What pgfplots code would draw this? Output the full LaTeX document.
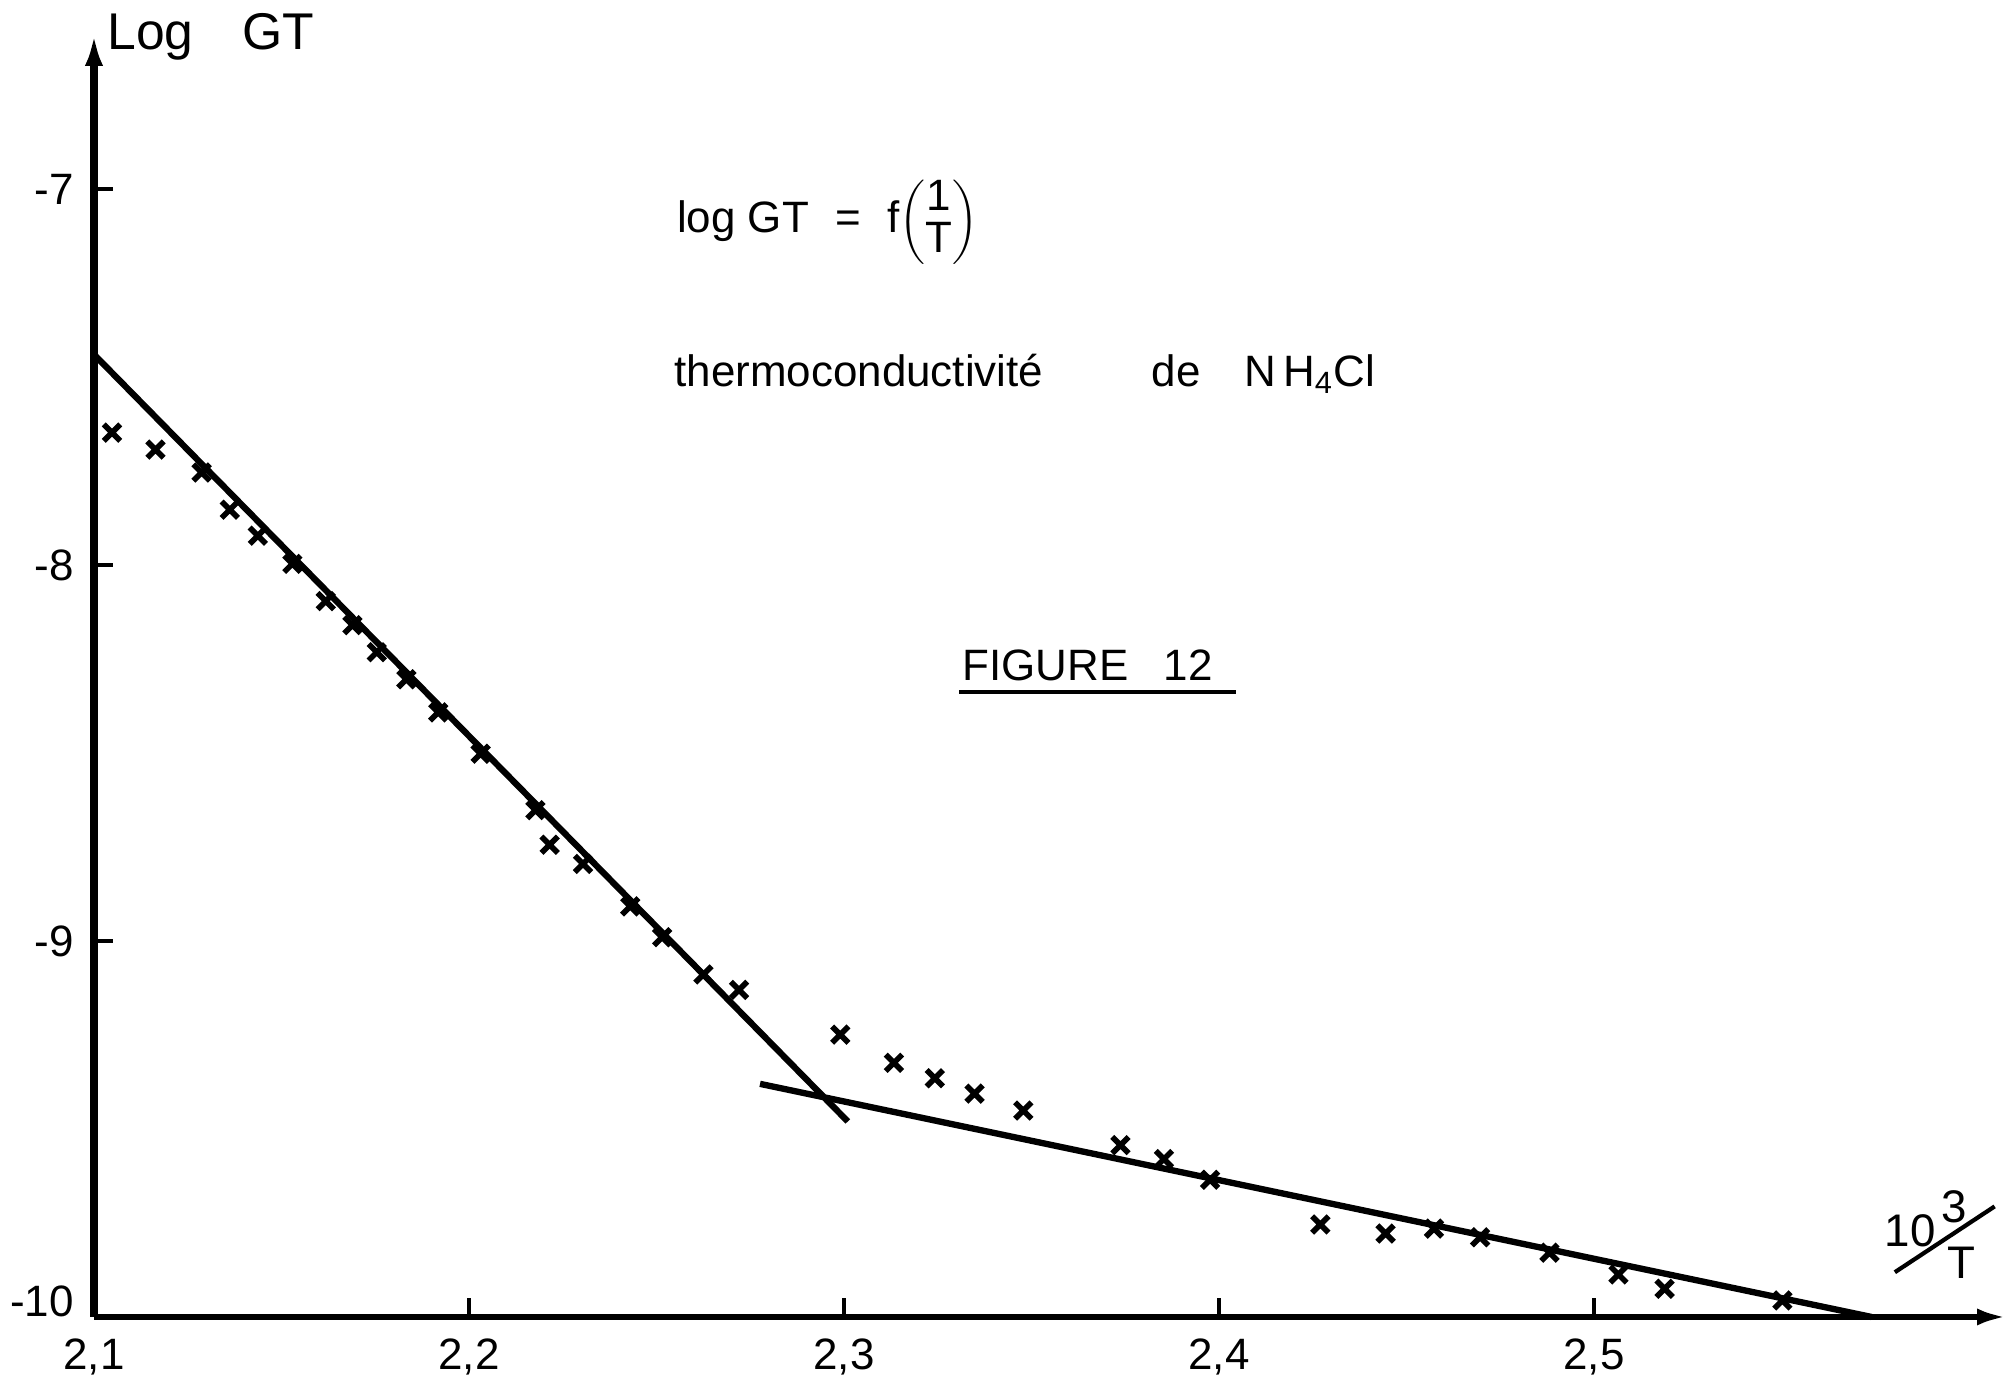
\documentclass[border=0pt]{standalone}
\usepackage{pgfplots}
\pgfplotsset{compat=1.18}
\usepackage{fontspec}
\setmainfont{Liberation Sans}
\usetikzlibrary{arrows.meta}
\begin{document}
\begin{tikzpicture}
\useasboundingbox (-0.94,-0.67) rectangle (19.14,13.17);
\begin{axis}[
  at={(0,0)}, anchor=south west,
  scale only axis, width=19.13cm, height=12.84cm,
  xmin=2.1, xmax=2.6101, ymin=-10, ymax=-6.585,
  axis x line=bottom, axis y line=left,
  x axis line style={line width=1.7pt, -{Latex[length=0.3cm,width=0.17cm]}},
  y axis line style={line width=2pt, -{Latex[length=0.33cm,width=0.18cm]}},
  xtick={2.1,2.2,2.3,2.4,2.5},
  xticklabels={{2,1},{2,2},{2,3},{2,4},{2,5}},
  ytick={-9,-8,-7},
  yticklabels={-9,-8,-7},
  extra y ticks={-10},
  extra y tick labels={-10},
  extra y tick style={yticklabel style={yshift=0.16cm}},
  tick align=inside, major tick length=0.19cm,
  tick style={line width=1.2pt, black},
  ticklabel style={font=\fontsize{12.5}{13}\selectfont},
  yticklabel style={xshift=-0.08cm},
  xticklabel style={yshift=-0.09cm},
  clip=false,
]
\addplot[only marks, mark=x, mark size=3.3pt, mark options={line width=1.6pt}] table {
x y
2.1048 -7.648
2.1164 -7.693
2.1287 -7.754
2.1362 -7.853
2.1437 -7.922
2.1529 -7.997
2.1618 -8.096
2.1689 -8.160
2.1754 -8.232
2.1833 -8.304
2.1918 -8.392
2.2031 -8.502
2.2177 -8.652
2.2215 -8.744
2.2304 -8.795
2.2430 -8.908
2.2515 -8.990
2.2625 -9.089
2.2720 -9.130
2.2990 -9.249
2.3133 -9.324
2.3242 -9.365
2.3348 -9.406
2.3478 -9.451
2.3737 -9.543
2.3853 -9.580
2.3976 -9.635
2.4270 -9.754
2.4444 -9.778
2.4573 -9.765
2.4696 -9.788
2.4881 -9.829
2.5065 -9.887
2.5188 -9.925
2.5502 -9.956
};
\addplot[line width=1.8pt] coordinates {(2.1,-7.44) (2.301,-9.48)};
\addplot[line width=1.8pt] coordinates {(2.2776,-9.38) (2.574,-10)};

\node[inner sep=0pt, anchor=base west, font=\fontsize{14.7}{15}\selectfont] at (axis cs:2.1034,-6.628) {Log\hspace{0.95em}GT};
\node[inner sep=0pt, anchor=base west, font=\fontsize{12.5}{13}\selectfont] at (axis cs:2.2553,-7.116) {log GT\hspace{0.6em}=\hspace{0.6em}f$\left(\begin{tabular}{@{}c@{}}1\\[-1pt]T\end{tabular}\right)$};
\node[inner sep=0pt, anchor=base west, font=\fontsize{12.5}{13}\selectfont] at (axis cs:2.2546,-7.526) {thermoconductivité};
\node[inner sep=0pt, anchor=base west, font=\fontsize{12.5}{13}\selectfont] at (axis cs:2.3819,-7.526) {de};
\node[inner sep=0pt, anchor=base west, font=\fontsize{12.5}{13}\selectfont] at (axis cs:2.4065,-7.526) {N\,H\textsubscript{4}Cl};
\node[inner sep=0pt, anchor=base west, font=\fontsize{12.5}{13}\selectfont] at (axis cs:2.3314,-8.307) {FIGURE\hspace{0.8em}12};
\draw[line width=1pt] (axis cs:2.3307,-8.338) -- (axis cs:2.4044,-8.338);
\node[font=\fontsize{13}{13}\selectfont] at (axis cs:2.5843,-9.77) {10};
\node[font=\fontsize{13}{13}\selectfont] at (axis cs:2.5959,-9.708) {3};
\node[font=\fontsize{13}{13}\selectfont] at (axis cs:2.598,-9.857) {T};
\draw[line width=1.2pt] (axis cs:2.5802,-9.881) -- (axis cs:2.6068,-9.706);
\end{axis}
\end{tikzpicture}
\end{document}
